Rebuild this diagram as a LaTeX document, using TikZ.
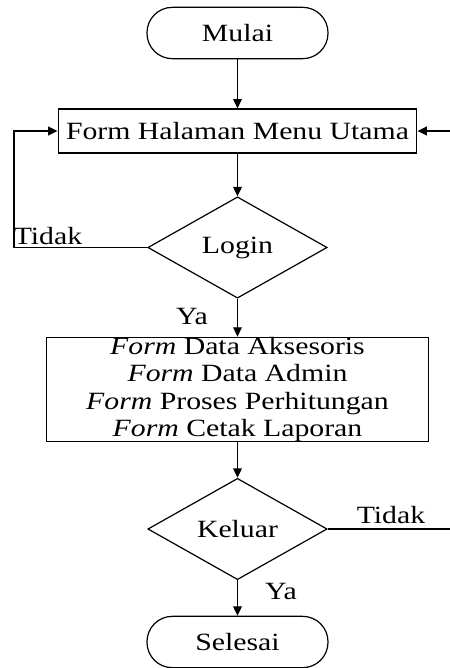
\documentclass[tikz,border=0pt]{standalone}
\usepackage{fontspec}
\setmainfont{Liberation Serif}[FakeStretch=1.2]
\usetikzlibrary{shapes.geometric,arrows.meta}
\begin{document}
\begin{tikzpicture}[x=0.75pt,y=-0.75pt,
  font=\fontsize{18.6}{20.5}\selectfont,
  every node/.style={inner sep=0pt},
  term/.style={draw, rectangle, rounded corners=19pt, minimum width=135.75pt, minimum height=38.5pt, line width=0.9pt},
  proc/.style={draw, rectangle, line width=0.9pt, align=center},
  dec/.style={draw, diamond, minimum width=134.5pt, minimum height=76pt, line width=0.9pt},
  conn/.style={line width=1pt},
  arr/.style={conn, -{Triangle[length=7pt,width=6.5pt]}}]
\useasboundingbox (0,0) rectangle (450,668);
\node[term] (mulai) at (237.5,33) {Mulai};
\node[proc, minimum width=269pt, minimum height=33pt] (menu) at (237.5,131) {Form Halaman Menu Utama};
\node[dec] (login) at (237.5,247.5) {Login};
\node[proc, minimum width=286pt, minimum height=77pt] (forms) at (237.5,389.5)
  {\textit{Form} Data Aksesoris\\ \textit{Form} Data Admin\\ \textit{Form} Proses Perhitungan\\ \textit{Form} Cetak Laporan};
\node[dec] (keluar) at (237.5,529) {Keluar};
\node[term] (selesai) at (237.5,642) {Selesai};
\node (t1) at (48,236) {Tidak};
\node (y1) at (192,316) {Ya};
\node (t2) at (391,515) {Tidak};
\node (y2) at (281,591) {Ya};
\coordinate (lc) at (14,247.5);
\coordinate (rc1) at (450,529);
\coordinate (rc2) at (450,131);
\draw[arr] (mulai) -- (menu);
\draw[arr] (menu) -- (login);
\draw[arr] (login) -- (forms);
\draw[arr] (forms) -- (keluar);
\draw[arr] (keluar) -- (selesai);
\draw[arr] (login.west) -- (lc) |- (menu.west);
\draw[conn] (keluar.east) -- (rc1);
\draw[arr] (rc2) -- (menu.east);
\end{tikzpicture}
\end{document}
